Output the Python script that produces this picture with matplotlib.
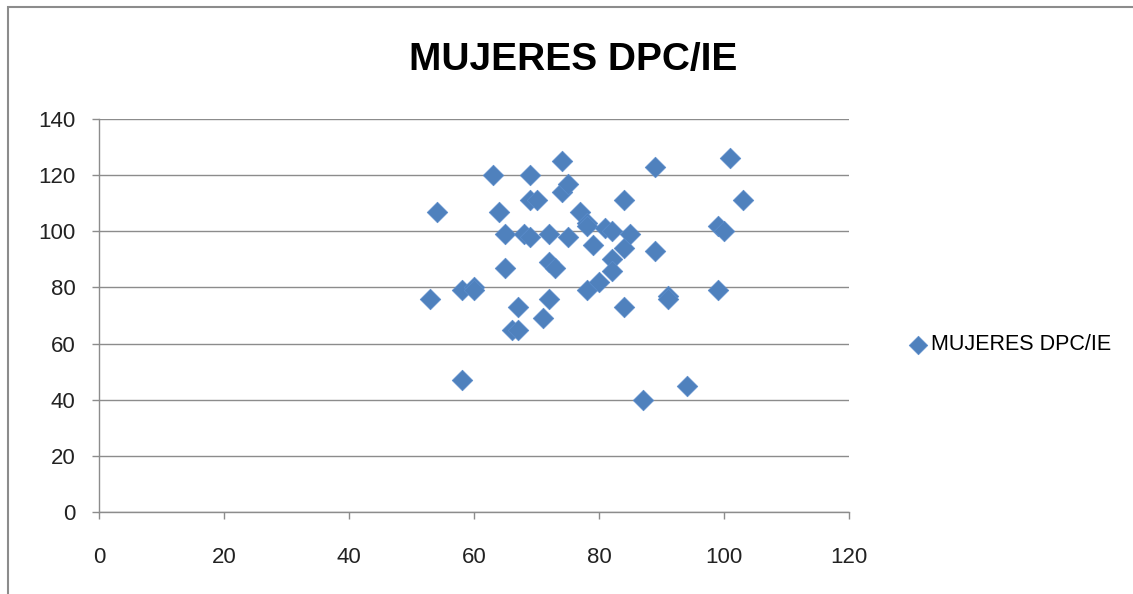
import matplotlib
matplotlib.use("Agg")
import matplotlib.pyplot as plt
from matplotlib.patches import Rectangle

title = "MUJERES DPC/IE"
series_name = "MUJERES DPC/IE"
x_vals = [53, 54, 58, 58, 60, 60, 63, 64, 65, 65, 66, 67, 67, 68, 69, 69, 70, 69,
          71, 72, 72, 73, 72, 74, 74, 75, 75, 77, 78, 78, 78, 79, 80, 81, 82, 82,
          82, 84, 84, 85, 84, 87, 89, 89, 91, 91, 94, 99, 100, 99, 101, 103]
y_vals = [76, 107, 79, 47, 80, 79, 120, 107, 99, 87, 65, 65, 73, 99, 120, 111, 111, 98,
          69, 99, 89, 87, 76, 125, 114, 117, 98, 107, 103, 102, 79, 95, 82, 101, 100, 90,
          86, 111, 94, 99, 73, 40, 123, 93, 77, 76, 45, 102, 100, 79, 126, 111]
x_ticks = [0, 20, 40, 60, 80, 100, 120]
y_ticks = [0, 20, 40, 60, 80, 100, 120, 140]

W, H = 1133, 594
fig = plt.figure(figsize=(W / 100, H / 100), dpi=100)
fig.patch.set_facecolor("white")

# chart border
fig.patches.append(Rectangle((8 / W, -0.05), 1.2, (H - 7) / H + 0.05,
                             transform=fig.transFigure, fill=False,
                             edgecolor="#8c8c8c", linewidth=1.5))

ax = fig.add_axes([99 / W, (H - 512) / H, (849 - 99) / W, (512 - 119) / H])
fam = ["Liberation Sans", "DejaVu Sans"]

ax.scatter(x_vals, y_vals, marker="D", s=110, color="#4F81BD",
           edgecolors="#5a8ccc", linewidths=0.5, zorder=3, label=series_name)

ax.set_xlim(0, 120)
ax.set_ylim(0, 140)
ax.set_xticks(x_ticks)
ax.set_yticks(y_ticks)
ax.set_xticklabels([str(v) for v in x_ticks], fontsize=16, family=fam, color="#222222")
ax.set_yticklabels([str(v) for v in y_ticks], fontsize=16, family=fam, color="#222222")
ax.yaxis.grid(True, color="#8c8c8c", linewidth=1.0)
ax.set_axisbelow(True)
for s in ["top", "right"]:
    ax.spines[s].set_visible(False)
for s in ["left", "bottom"]:
    ax.spines[s].set_color("#8c8c8c")
    ax.spines[s].set_linewidth(1.0)
ax.tick_params(axis="both", direction="out", length=5, color="#8c8c8c", width=1.0)
ax.tick_params(axis="x", pad=20)
ax.tick_params(axis="y", pad=12)

fig.text(573 / W, 1 - 60 / H, title, ha="center", va="center", fontsize=28,
         fontweight="bold", family=fam, color="black")

leg = fig.legend(loc="center left", bbox_to_anchor=(888 / W, 1 - 345 / H),
                 frameon=False, prop={"family": fam, "size": 15.5},
                 handletextpad=-0.4, markerscale=0.9, borderaxespad=0)

fig.savefig("out.png", dpi=100, facecolor="white")
